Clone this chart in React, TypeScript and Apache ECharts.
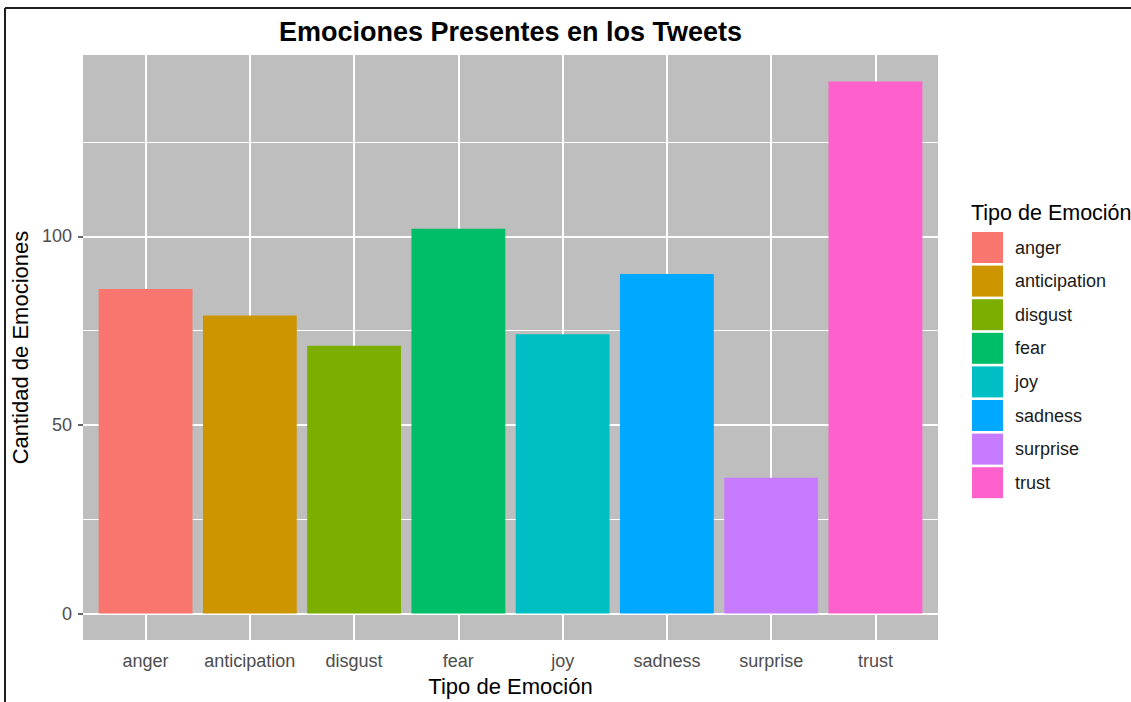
import React, { useEffect, useRef } from "react";
import * as echarts from "echarts";

// Emotion categories and the number of tweets showing each one
const categories = ["anger", "anticipation", "disgust", "fear", "joy", "sadness", "surprise", "trust"];
const counts = [86, 79, 71, 102, 74, 90, 36, 141];
const colors = ["#F8766D", "#CD9600", "#7CAE00", "#00BE67", "#00BFC4", "#00A9FF", "#C77CFF", "#FF61CC"];

// Axis ticks
const yMajorTicks = [0, 50, 100];
const yMinorTicks = [25, 75, 125];
const xPositions = categories.map((_, i) => i + 1);

const FONT = "'Liberation Sans', Arial, sans-serif";

// Plot panel geometry (px)
const GRID_LEFT = 83;
const GRID_TOP = 55;
const GRID_W = 855;
const GRID_H = 587;

// Discrete axis padded by 0.6 of a band on each side, value axis by 5%
const X_MIN = 0.4;
const X_MAX = categories.length + 0.6;
const yMaxData = Math.max(...counts);
const Y_MIN = -0.05 * yMaxData;
const Y_MAX = yMaxData * 1.05;
const BAR_WIDTH = (0.9 * GRID_W) / (X_MAX - X_MIN);

export default function App() {
  const ref = useRef<HTMLDivElement>(null);

  useEffect(() => {
    if (!ref.current) return;
    const chart = echarts.init(ref.current, null, { renderer: "svg" });

    const gridLines = [
      ...yMajorTicks.map((v) => ({ yAxis: v, lineStyle: { width: 2 } })),
      ...yMinorTicks.map((v) => ({ yAxis: v, lineStyle: { width: 1 } })),
      ...xPositions.map((v) => ({ xAxis: v, lineStyle: { width: 2 } })),
    ];

    chart.setOption({
      animation: false,
      textStyle: { fontFamily: FONT },
      grid: {
        left: GRID_LEFT,
        top: GRID_TOP,
        width: GRID_W,
        height: GRID_H,
        show: true,
        backgroundColor: "#BEBEBE",
        borderWidth: 0,
      },
      xAxis: {
        type: "value",
        min: X_MIN,
        max: X_MAX,
        axisLine: { show: false },
        splitLine: { show: false },
        axisTick: {
          customValues: xPositions,
          length: 5,
          lineStyle: { color: "#333333", width: 1.5 },
        },
        axisLabel: {
          customValues: xPositions,
          formatter: (v: number) => categories[Math.round(v) - 1] ?? "",
          color: "#4D4D4D",
          fontSize: 18,
          margin: 12,
          fontFamily: FONT,
        },
        name: "Tipo de Emoción",
        nameLocation: "middle",
        nameGap: 34,
        nameTextStyle: { fontSize: 22, color: "#000000", fontFamily: FONT },
      },
      yAxis: {
        type: "value",
        min: Y_MIN,
        max: Y_MAX,
        axisLine: { show: false },
        splitLine: { show: false },
        axisTick: {
          show: true,
          customValues: yMajorTicks,
          length: 5,
          lineStyle: { color: "#333333", width: 1.5 },
        },
        axisLabel: {
          customValues: yMajorTicks,
          color: "#4D4D4D",
          fontSize: 18,
          margin: 11,
          fontFamily: FONT,
        },
        name: "Cantidad de Emociones",
        nameLocation: "middle",
        nameRotate: 90,
        nameGap: 42,
        nameTextStyle: { fontSize: 22, color: "#000000", fontFamily: FONT },
      },
      legend: {
        data: categories,
        orient: "vertical",
        left: 972,
        top: 232,
        padding: 0,
        icon: "rect",
        itemWidth: 31,
        itemHeight: 31,
        itemGap: 2.6,
        selectedMode: false,
        textStyle: {
          fontSize: 18,
          color: "#1A1A1A",
          fontFamily: FONT,
          padding: [5, 0, 0, 7],
        },
      },
      graphic: [
        {
          type: "text",
          x: (GRID_LEFT + GRID_LEFT + GRID_W) / 2,
          y: 32,
          style: {
            text: "Emociones Presentes en los Tweets",
            fontSize: 27,
            fontWeight: "bold",
            fontFamily: FONT,
            fill: "#000000",
            textAlign: "center",
            textVerticalAlign: "middle",
          },
        },
        {
          type: "text",
          x: 971,
          y: 213,
          style: {
            text: "Tipo de Emoción",
            fontSize: 21.5,
            fontFamily: FONT,
            fill: "#000000",
            textAlign: "left",
            textVerticalAlign: "middle",
          },
        },
        {
          type: "line",
          shape: { x1: 5, y1: 8, x2: 1131, y2: 8 },
          style: { stroke: "#1F1F1F", lineWidth: 2 },
        },
        {
          type: "line",
          shape: { x1: 5, y1: 8, x2: 5, y2: 702 },
          style: { stroke: "#1F1F1F", lineWidth: 2 },
        },
      ],
      series: categories.map((name, i) => ({
        type: "bar",
        name,
        data: [[xPositions[i], counts[i]]],
        barWidth: BAR_WIDTH,
        barGap: "-100%",
        itemStyle: { color: colors[i] },
        z: 2,
        markLine:
          i === 0
            ? {
                silent: true,
                symbol: "none",
                z: 1,
                label: { show: false },
                lineStyle: { color: "#FFFFFF", type: "solid" },
                data: gridLines,
              }
            : undefined,
      })),
    });

    return () => chart.dispose();
  }, []);

  return (
    <div
      ref={ref}
      style={{ position: "fixed", left: 0, top: 0, width: 1131, height: 702, background: "#FFFFFF" }}
    />
  );
}
